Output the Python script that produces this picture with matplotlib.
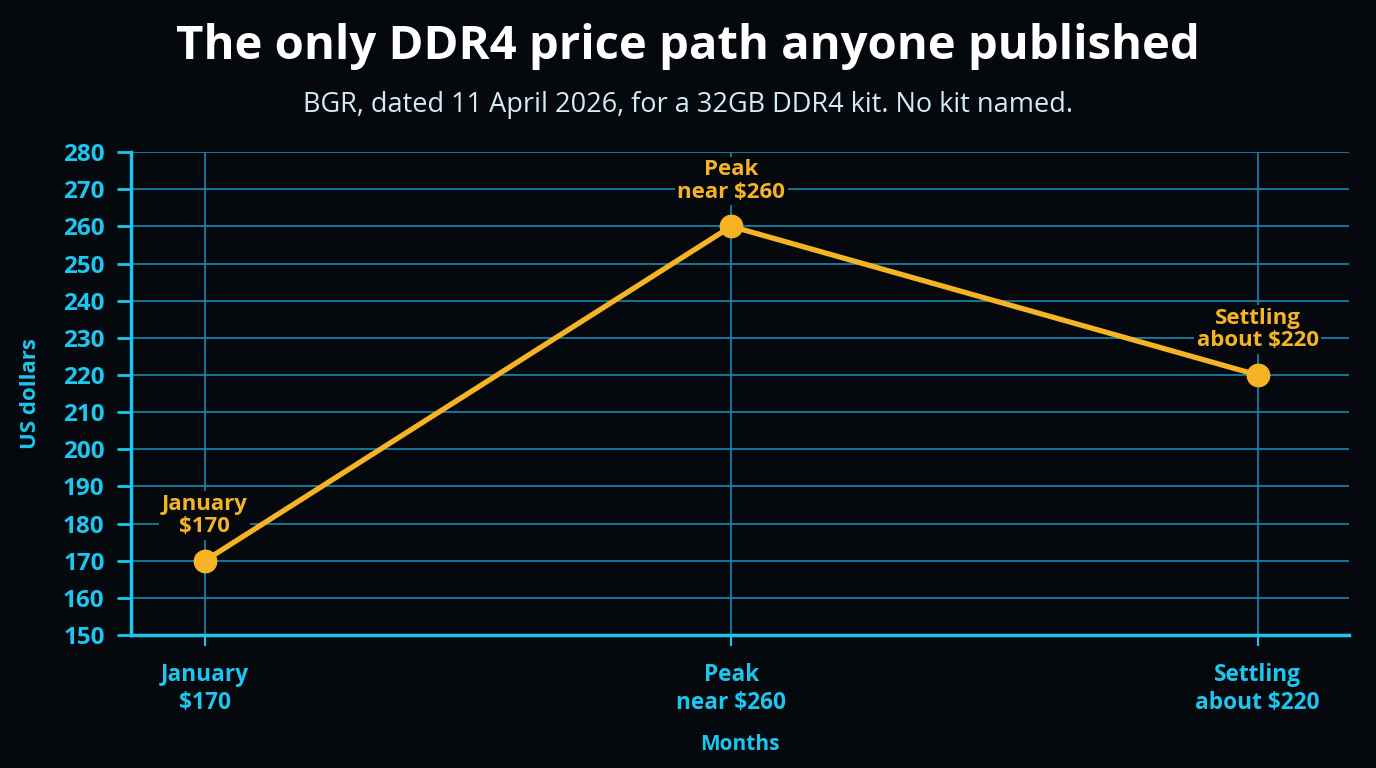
import matplotlib
matplotlib.use("Agg")
import matplotlib.pyplot as plt

# data
stages = ["January\n$170", "Peak\nnear $260", "Settling\nabout $220"]
prices = [170, 260, 220]
y_ticks = list(range(150, 290, 10))

BG = "#05090e"
CYAN = "#1cc6ee"
GRID = "#1889b0"
ORANGE = "#f6b324"

plt.rcParams["font.family"] = ["Open Sans", "DejaVu Sans"]

fig = plt.figure(figsize=(13.76, 7.68), dpi=100, facecolor=BG)
ax = fig.add_axes([0.0952, 0.173, 0.885, 0.629])
ax.set_facecolor(BG)

xs = list(range(len(prices)))
ax.plot(xs, prices, color=ORANGE, lw=3.8, zorder=3, solid_capstyle="round")
ax.scatter(xs, prices, s=260, color=ORANGE, zorder=4)

# point labels above each marker, box hides the grid but not the line
for x, y, lab in zip(xs, prices, stages):
    ax.annotate(lab, (x, y), xytext=(0, 17), textcoords="offset points",
                ha="center", va="bottom", color=ORANGE, fontsize=16,
                fontweight="bold", linespacing=1.1, zorder=2.5,
                bbox=dict(boxstyle="square,pad=0.12", fc=BG, ec="none"))

ax.set_xlim(-0.14, 2.173)
ax.set_ylim(150, 280)
ax.set_yticks(y_ticks)
ax.set_xticks(xs)
ax.set_xticklabels(stages)

ax.grid(True, color=GRID, lw=1.2, zorder=0)
for side in ["top", "right"]:
    ax.spines[side].set_visible(False)
for side in ["left", "bottom"]:
    ax.spines[side].set_color(CYAN)
    ax.spines[side].set_linewidth(2.5)

ax.tick_params(axis="y", colors=CYAN, length=10, width=2, labelsize=17.5, pad=9)
ax.tick_params(axis="x", colors=CYAN, length=8, width=1.5, labelsize=16.3, pad=12)
for t in ax.get_xticklabels() + ax.get_yticklabels():
    t.set_fontweight("bold")

ax.set_ylabel("US dollars", color=CYAN, fontsize=16, fontweight="bold", labelpad=16)
ax.set_xlabel("Months", color=CYAN, fontsize=15, fontweight="bold", labelpad=14)

fig.text(0.5, 0.94, "The only DDR4 price path anyone published", ha="center",
         va="center", color="white", fontsize=34, fontweight="bold")
fig.text(0.5, 0.863, "BGR, dated 11 April 2026, for a 32GB DDR4 kit. No kit named.",
         ha="center", va="center", color="#d4ecf3", fontsize=19.5)

fig.savefig("out.png", dpi=100, facecolor=BG)
